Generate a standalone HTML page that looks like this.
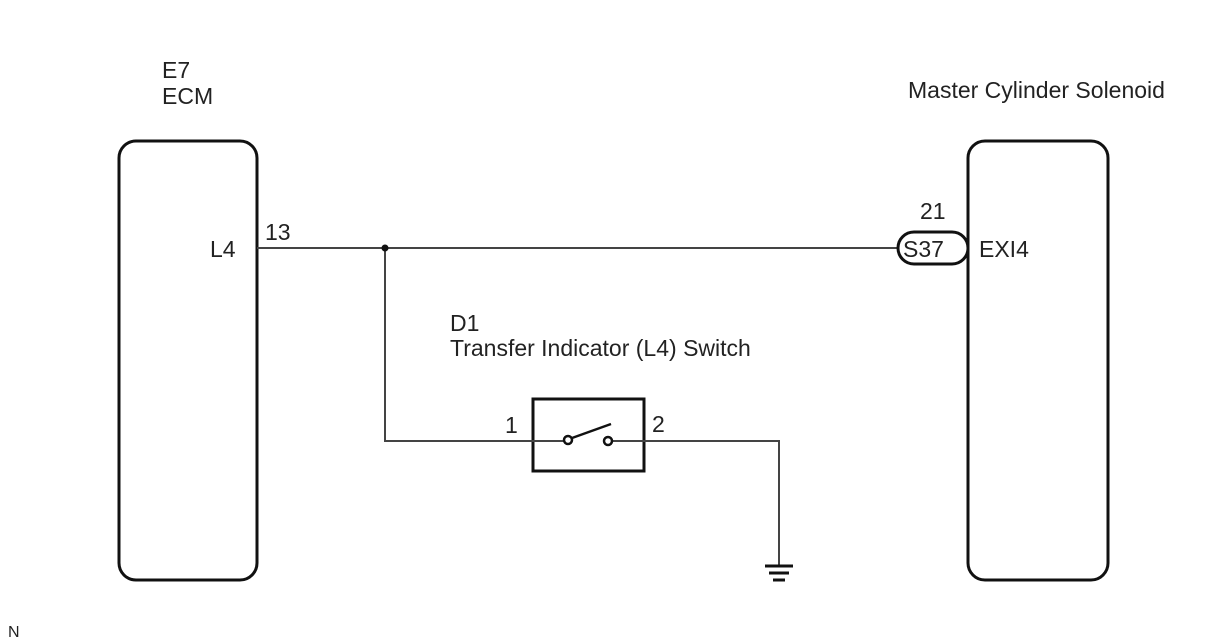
<!DOCTYPE html>
<html><head><meta charset="utf-8"><style>
html,body{margin:0;padding:0;background:#fff;}
svg{display:block;}
text{font-family:"Liberation Sans",Arial,sans-serif;fill:#222;}
</style></head><body>
<svg width="1208" height="644" viewBox="0 0 1208 644" xmlns="http://www.w3.org/2000/svg">
<g fill="none" stroke="#111" stroke-width="3">
<rect x="119" y="141" width="138" height="439" rx="17"/>
<rect x="968" y="141" width="140" height="439" rx="17"/>
<rect x="533" y="399" width="111" height="72"/>
</g>
<g fill="none" stroke="#444" stroke-width="2">
<line x1="257" y1="248" x2="898" y2="248"/>
<polyline points="385,248 385,441 533,441"/>
<polyline points="644,441 779,441 779,566"/>
<line x1="533" y1="441" x2="567" y2="441"/>
<line x1="610" y1="441" x2="644" y2="441"/>
</g>
<circle cx="385" cy="248" r="3.5" fill="#111"/>
<rect x="898" y="232" width="70" height="32" rx="16" fill="#fff" stroke="#111" stroke-width="3"/>
<g stroke="#111" stroke-width="2.5" fill="#fff">
<circle cx="568" cy="440" r="4"/>
<circle cx="608" cy="441" r="4"/>
<line x1="572" y1="438" x2="611" y2="424"/>
</g>
<g stroke="#111" stroke-width="3">
<line x1="765" y1="566" x2="793" y2="566"/>
<line x1="769" y1="573" x2="789" y2="573"/>
<line x1="773" y1="580" x2="785" y2="580"/>
</g>
<g font-size="23">
<text x="162" y="78">E7</text>
<text x="162" y="104">ECM</text>
<text x="908" y="98">Master Cylinder Solenoid</text>
<text x="210" y="257">L4</text>
<text x="265" y="240">13</text>
<text x="920" y="219">21</text>
<text x="903" y="257">S37</text>
<text x="979" y="257">EXI4</text>
<text x="450" y="331">D1</text>
<text x="450" y="356">Transfer Indicator (L4) Switch</text>
<text x="505" y="433">1</text>
<text x="652" y="432">2</text>
</g>
<text x="8" y="637" font-size="16">N</text>
</svg>
</body></html>
